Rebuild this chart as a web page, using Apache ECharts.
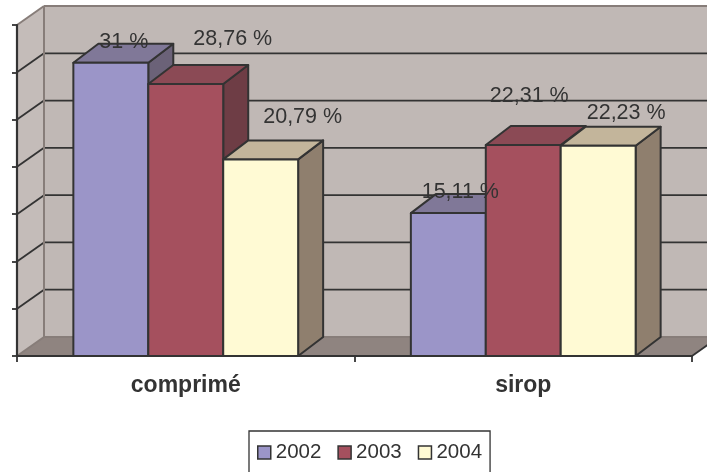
<!DOCTYPE html>
<html>
<head>
<meta charset="utf-8">
<script src="https://cdn.jsdelivr.net/npm/echarts@6/dist/echarts.min.js"></script>
<style>
html,body{margin:0;padding:0;background:#fff;}
#chart{width:707px;height:472px;}
</style>
</head>
<body>
<div id="chart"></div>
<script>
// ---- data ----
const categories = ['comprimé', 'sirop'];
const years = ['2002', '2003', '2004'];
const values2002 = [31, 15.11];
const values2003 = [28.76, 22.31];
const values2004 = [20.79, 22.23];
const yTicks = [0, 5, 10, 15, 20, 25, 30, 35];

// ---- styles ----
const seriesValues = [values2002, values2003, values2004];
const FRONT = ['#9b95c8', '#a5505e', '#fffad4'];
const TOP = ['#807898', '#8b4a55', '#c3b59b'];
const SIDE = ['#6b6278', '#6e3d45', '#8f7f6e'];
const EDGE = '#333333';
const BAR_FRAC = 0.222;
const DEPTH_BAR = [25, -19];
const DEPTH_WALL = [27, -19];
const LABEL_NUDGE = [
  [[-12, -2], [-13, -2]],
  [[22, -26], [-19, -30]],
  [[17, -23], [3, -14]]
];

function fmt(v) { return String(v).replace('.', ',') + ' %'; }

function barGeom(i, cat, v, api) {
  const base = api.coord([cat, 0]);
  const top = api.coord([cat, v]);
  const band = api.size([1, 0])[0];
  const bw = band * BAR_FRAC;
  const x0 = base[0] - 1.5 * bw + i * bw;
  return { x0: x0, bw: bw, yT: top[1], yB: base[1] };
}

function renderBar(i, params, api) {
  const g = barGeom(i, api.value(0), api.value(1), api);
  const dx = DEPTH_BAR[0], dy = DEPTH_BAR[1];
  const x1 = g.x0 + g.bw;
  const st = { stroke: EDGE, lineWidth: 2, lineJoin: 'round' };
  return {
    type: 'group',
    children: [
      { type: 'polygon', shape: { points: [[x1, g.yT], [x1 + dx, g.yT + dy], [x1 + dx, g.yB + dy], [x1, g.yB]] },
        style: Object.assign({ fill: SIDE[i] }, st) },
      { type: 'polygon', shape: { points: [[g.x0, g.yT], [x1, g.yT], [x1 + dx, g.yT + dy], [g.x0 + dx, g.yT + dy]] },
        style: Object.assign({ fill: TOP[i] }, st) },
      { type: 'rect', shape: { x: g.x0, y: g.yT, width: g.bw, height: g.yB - g.yT },
        style: Object.assign({ fill: FRONT[i] }, st) }
    ]
  };
}

function renderLabel(params, api) {
  const cat = api.value(0), v = api.value(1), i = api.value(2);
  const g = barGeom(i, cat, v, api);
  const n = LABEL_NUDGE[i][cat];
  const cx = g.x0 + g.bw / 2 + DEPTH_BAR[0] + n[0];
  const cy = g.yT + DEPTH_BAR[1] + n[1];
  return {
    type: 'text',
    x: cx, y: cy,
    style: {
      text: fmt(v), fill: '#333', align: 'center', verticalAlign: 'middle',
      font: '21.5px "Liberation Sans", Arial, sans-serif'
    }
  };
}

function renderWalls(params, api) {
  const cs = params.coordSys;
  const L = cs.x, R = cs.x + cs.width, T = cs.y, B = cs.y + cs.height;
  const dx = DEPTH_WALL[0], dy = DEPTH_WALL[1];
  const FAR = 800;
  const wallBorder = { stroke: '#877d79', lineWidth: 2 };
  const grid = { stroke: '#333', lineWidth: 1.8 };
  const ch = [];
  ch.push({ type: 'rect', shape: { x: L + dx, y: T + dy, width: FAR, height: B - T }, style: { fill: '#c0b8b5' } });
  ch.push({ type: 'polygon', shape: { points: [[L, B], [L, T], [L + dx, T + dy], [L + dx, B + dy]] }, style: { fill: '#c4bcb9' } });
  ch.push({ type: 'polygon', shape: { points: [[L, B], [R, B], [R + dx, B + dy], [L + dx, B + dy]] }, style: { fill: '#8f8480' } });
  yTicks.forEach(function (t) {
    if (t === yTicks[0] || t === yTicks[yTicks.length - 1]) return;
    const y = api.coord([0, t])[1];
    ch.push({ type: 'line', shape: { x1: L + dx, y1: y + dy, x2: L + dx + FAR, y2: y + dy }, style: grid });
    ch.push({ type: 'line', shape: { x1: L, y1: y, x2: L + dx, y2: y + dy }, style: grid });
  });
  ch.push({ type: 'line', shape: { x1: L + dx, y1: T + dy, x2: L + dx + FAR, y2: T + dy }, style: wallBorder });
  ch.push({ type: 'line', shape: { x1: L, y1: T, x2: L + dx, y2: T + dy }, style: wallBorder });
  ch.push({ type: 'line', shape: { x1: L + dx, y1: T + dy, x2: L + dx, y2: B + dy }, style: wallBorder });
  ch.push({ type: 'line', shape: { x1: L + dx, y1: B + dy, x2: L + dx + FAR, y2: B + dy }, style: wallBorder });
  ch.push({ type: 'line', shape: { x1: L, y1: B, x2: L + dx, y2: B + dy }, style: wallBorder });
  ch.push({ type: 'line', shape: { x1: R, y1: B, x2: R + dx, y2: B + dy }, style: { stroke: '#333', lineWidth: 1.8 } });
  return { type: 'group', children: ch };
}

const labelData = [];
seriesValues.forEach(function (vals, i) {
  vals.forEach(function (v, j) { labelData.push([j, v, i]); });
});

const series = [{
  type: 'custom', name: 'walls', z: 1, silent: true,
  renderItem: renderWalls, data: [[0, 0]]
}];
years.forEach(function (y, i) {
  series.push({
    type: 'custom', name: y, z: 2,
    itemStyle: { color: FRONT[i] },
    renderItem: function (p, api) { return renderBar(i, p, api); },
    data: categories.map(function (c, j) { return [j, seriesValues[i][j]]; })
  });
});
series.push({ type: 'custom', name: 'labels', z: 8, silent: true, renderItem: renderLabel, data: labelData });

const chart = echarts.init(document.getElementById('chart'), null, { renderer: 'canvas' });
chart.setOption({
  animation: false,
  backgroundColor: '#ffffff',
  grid: { left: 17, right: 15, top: 25, bottom: 116, containLabel: false },
  xAxis: {
    type: 'category', data: categories, z: 5,
    axisLine: { lineStyle: { color: '#333', width: 2.2 } },
    axisTick: { show: true, length: 6, lineStyle: { color: '#333', width: 1.8 } },
    axisLabel: { color: '#333', fontSize: 23, fontWeight: 'bold', fontFamily: '"Liberation Sans", Arial, sans-serif', margin: 18 },
    splitLine: { show: false }
  },
  yAxis: {
    type: 'value', min: yTicks[0], max: yTicks[yTicks.length - 1], interval: yTicks[1] - yTicks[0], z: 5,
    axisLine: { show: true, lineStyle: { color: '#333', width: 2.2 } },
    axisTick: { show: true, length: 5, lineStyle: { color: '#333', width: 1.8 } },
    axisLabel: { show: false },
    splitLine: { show: false }
  },
  legend: {
    data: years, left: 249, top: 431, orient: 'horizontal',
    padding: [11, 8, 14, 8], itemGap: 16, itemWidth: 13, itemHeight: 13,
    icon: 'rect', borderColor: '#333', borderWidth: 1.3,
    itemStyle: { borderColor: '#333', borderWidth: 1.5 },
    textStyle: { color: '#333', fontSize: 20.5, fontFamily: '"Liberation Sans", Arial, sans-serif' },
    selectedMode: false
  },
  series: series
});
</script>
</body>
</html>
